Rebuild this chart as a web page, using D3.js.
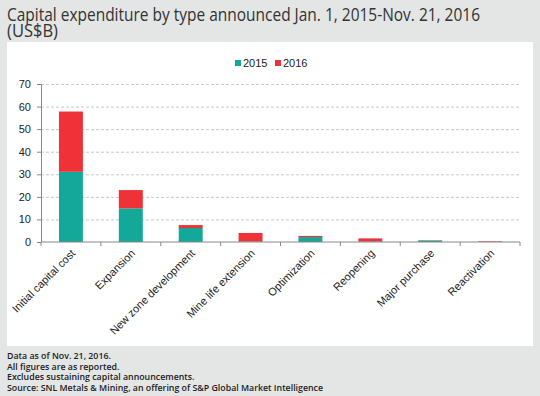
<!DOCTYPE html>
<html>
<head>
<meta charset="utf-8">
<script src="https://cdn.jsdelivr.net/npm/d3@7"></script>
<style>
  body { margin: 0; background: #e4e5e5; }
  svg { display: block; }
</style>
</head>
<body>
<div id="chart"></div>
<script>
// categories + stacked values (US$B)
const categories = ["Initial capital cost", "Expansion", "New zone development",
  "Mine life extension", "Optimization", "Reopening", "Major purchase", "Reactivation"];
const series = ["2015", "2016"];
const values2015 = [31.1, 14.9, 6.2, 0.2, 2.2, 0.2, 0.7, 0.05];
const values2016 = [26.7, 8.1, 1.3, 3.8, 0.5, 1.4, 0.1, 0.25];
const yTicks = [0, 10, 20, 30, 40, 50, 60, 70];
const footnotes = ["Data as of Nov. 21, 2016.", "All figures are as reported.",
  "Excludes sustaining capital announcements.",
  "Source: SNL Metals & Mining, an offering of S&P Global Market Intelligence"];

const colors = { "2015": "#14a898", "2016": "#ee3237" };

const W = 540, H = 396;
const svg = d3.select("#chart").append("svg")
  .attr("width", W).attr("height", H);

svg.append("rect").attr("width", W).attr("height", H).attr("fill", "#e4e5e5");

// title (squeezed a bit, the original font is narrower)
const title = svg.append("text")
  .attr("font-family", "Open Sans")
  .attr("font-size", 18.5)
  .attr("fill", "#333");
title.append("tspan").attr("x", 7).attr("y", 21)
  .attr("textLength", 473).attr("lengthAdjust", "spacingAndGlyphs")
  .text("Capital expenditure by type announced Jan. 1, 2015-Nov. 21, 2016");
title.append("tspan").attr("x", 7).attr("y", 37)
  .attr("textLength", 51).attr("lengthAdjust", "spacingAndGlyphs")
  .text("(US$B)");

// white panel
svg.append("rect")
  .attr("x", 7).attr("y", 42).attr("width", 526).attr("height", 304)
  .attr("fill", "#fff");

const margin = { left: 41, right: 20, top: 84, bottom: 154 };
const x = d3.scaleBand()
  .domain(categories)
  .range([margin.left, W - margin.right])
  .paddingInner(0.6).paddingOuter(0.3);
const y = d3.scaleLinear().domain([0, 70]).range([H - margin.bottom, margin.top]);

// gridlines
svg.append("g").selectAll("line")
  .data(yTicks.slice(1))
  .join("line")
  .attr("x1", margin.left).attr("x2", W - margin.right)
  .attr("y1", d => y(d) + 0.5).attr("y2", d => y(d) + 0.5)
  .attr("stroke", "#c8c8c8")
  .attr("stroke-dasharray", "3,2");

// stacked bars
const rows = categories.map((c, i) => ({ cat: c, "2015": values2015[i], "2016": values2016[i] }));
const stacked = d3.stack().keys(series)(rows);

svg.append("g").selectAll("g")
  .data(stacked)
  .join("g")
  .attr("fill", d => colors[d.key])
  .selectAll("rect")
  .data(d => d)
  .join("rect")
  .attr("x", d => x(d.data.cat))
  .attr("width", x.bandwidth())
  .attr("y", d => y(d[1]))
  .attr("height", d => y(d[0]) - y(d[1]));

// y axis
const yAxis = svg.append("g")
  .attr("transform", `translate(${margin.left},0)`)
  .call(d3.axisLeft(y).tickValues(yTicks).tickSize(4).tickPadding(6));
yAxis.select(".domain").attr("stroke", "#888");
yAxis.selectAll(".tick line").attr("stroke", "#888");
yAxis.selectAll("text")
  .attr("font-family", "Liberation Sans, Arial")
  .attr("font-size", 11).attr("fill", "#222");

// x axis with ticks at band edges
const xAxisG = svg.append("g")
  .attr("transform", `translate(0,${y(0)})`);
xAxisG.append("line")
  .attr("x1", margin.left).attr("x2", W - margin.right)
  .attr("stroke", "#888");
const edges = categories.map(c => x(c) - x.step() * x.paddingInner() / 2);
edges.push(W - margin.right);
xAxisG.selectAll(".xt")
  .data(edges)
  .join("line")
  .attr("class", "xt")
  .attr("x1", d => d).attr("x2", d => d)
  .attr("y1", 0).attr("y2", 4)
  .attr("stroke", "#888");

xAxisG.selectAll(".xl")
  .data(categories)
  .join("text")
  .attr("class", "xl")
  .attr("text-anchor", "end")
  .attr("font-family", "Liberation Sans, Arial")
  .attr("font-size", 11)
  .attr("fill", "#222")
  .attr("transform", d => `translate(${x(d) + x.bandwidth() / 2 + 5},${12}) rotate(-45)`)
  .text(d => d);

// legend
const legend = svg.append("g")
  .attr("font-family", "Liberation Sans, Arial")
  .attr("font-size", 11).attr("fill", "#222");
const legendX = [235, 275];
series.forEach((s, i) => {
  legend.append("rect")
    .attr("x", legendX[i]).attr("y", 60)
    .attr("width", 6).attr("height", 6)
    .attr("fill", colors[s]);
  legend.append("text")
    .attr("x", legendX[i] + 8).attr("y", 67)
    .text(s);
});

// footnotes
svg.append("g").selectAll("text")
  .data(footnotes)
  .join("text")
  .attr("x", 7)
  .attr("y", (d, i) => 359 + i * 10.5)
  .attr("font-family", "Open Sans")
  .attr("font-weight", 600)
  .attr("font-size", 8.8)
  .attr("fill", "#222")
  .text(d => d);
</script>
</body>
</html>
